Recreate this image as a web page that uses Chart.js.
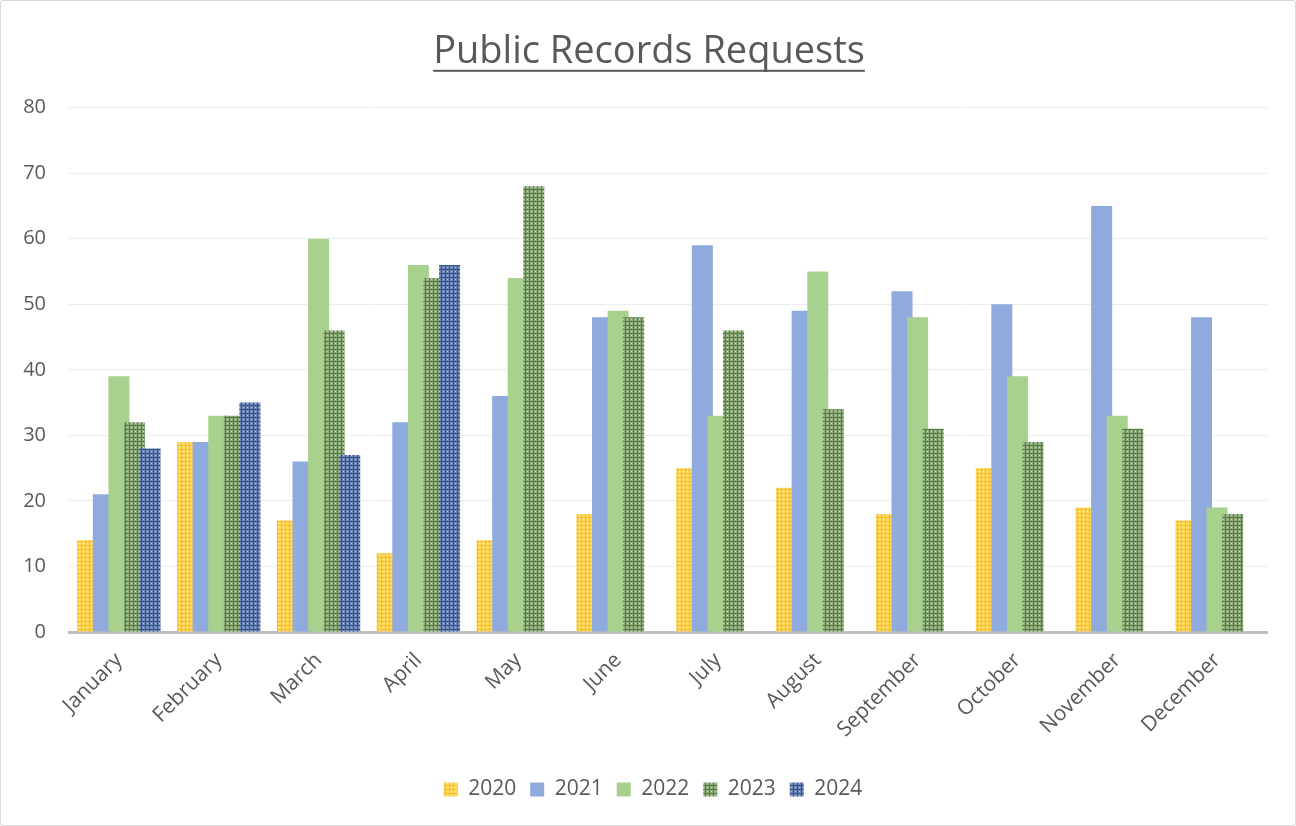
<!DOCTYPE html>
<html>
<head>
<meta charset="utf-8">
<script src="https://cdn.jsdelivr.net/npm/chart.js@4.4.1/dist/chart.umd.min.js"></script>
<style>
  html, body { margin: 0; padding: 0; background: #fff; }
  #wrap { width: 1296px; height: 826px; box-sizing: border-box; border: 1px solid #d9d9d9; border-radius: 3px; position: relative; }
  #c { display: block; }
</style>
</head>
<body>
<div id="wrap"><canvas id="c" width="1294" height="824"></canvas></div>
<script>
const months = ['January','February','March','April','May','June','July','August','September','October','November','December'];
const seriesNames = ['2020','2021','2022','2023','2024'];
const v2020 = [14, 29, 17, 12, 14, 18, 25, 22, 18, 25, 19, 17];
const v2021 = [21, 29, 26, 32, 36, 48, 59, 49, 52, 50, 65, 48];
const v2022 = [39, 33, 60, 56, 54, 49, 33, 55, 48, 39, 33, 19];
const v2023 = [32, 33, 46, 54, 68, 48, 46, 34, 31, 29, 31, 18];
const v2024 = [28, 35, 27, 56, null, null, null, null, null, null, null, null];
const yTicks = [0, 10, 20, 30, 40, 50, 60, 70, 80];

const FONT = "'Open Sans'";

function gridPattern(line, cell, dot) {
  const t = document.createElement('canvas');
  t.width = 4; t.height = 4;
  const g = t.getContext('2d');
  g.fillStyle = cell; g.fillRect(0, 0, 4, 4);
  g.fillStyle = line; g.fillRect(0, 0, 4, 1); g.fillRect(0, 0, 1, 4);
  if (dot) { g.fillStyle = dot; g.fillRect(2, 2, 1, 1); }
  return document.createElement('canvas').getContext('2d').createPattern(t, 'repeat');
}

const fills = [
  gridPattern('#f7c025', '#ffd860', '#ffeaa8'),
  '#8faadc',
  '#a9d18e',
  gridPattern('#55803a', '#93ad82', '#c4d3ba'),
  gridPattern('#34548f', '#7189b8', '#aebcd8')
];
const allValues = [v2020, v2021, v2022, v2023, v2024];

const drawInOrder = {
  id: 'drawInOrder',
  beforeDatasetsDraw(chart) {
    const metas = chart.getSortedVisibleDatasetMetas();
    for (const meta of metas) meta.controller.draw();
    return false;
  }
};

const shiftBlocks = {
  id: 'shiftBlocks',
  afterLayout(chart) {
    const t = chart.titleBlock;
    if (t) { t.left += 8; t.right += 8; }
    const l = chart.legend;
    if (l) { l.left += 12; l.right += 12; }
  }
};

const underlineTitle = {
  id: 'underlineTitle',
  afterDraw(chart) {
    const tb = chart.titleBlock;
    if (!tb) return;
    const ctx = chart.ctx;
    const f = tb.options.font;
    ctx.save();
    ctx.font = f.size + 'px ' + FONT;
    const w = ctx.measureText(chart.options.plugins.title.text).width;
    const cx = (tb.left + tb.right) / 2;
    const cy = tb.top + tb.options.padding.top + f.size * 1.2 / 2;
    ctx.fillStyle = '#595959';
    ctx.fillRect(cx - w / 2, cy + 18, w, 2);
    ctx.restore();
  }
};

new Chart(document.getElementById('c'), {
  type: 'bar',
  data: {
    labels: months,
    datasets: seriesNames.map((n, i) => ({
      label: n,
      data: allValues[i],
      backgroundColor: fills[i],
      borderWidth: 0,
      categoryPercentage: 0.78,
      barPercentage: 1.35
    }))
  },
  plugins: [drawInOrder, shiftBlocks, underlineTitle],
  options: {
    responsive: false,
    animation: false,
    layout: { padding: { left: 14, right: 28, top: 0, bottom: 15 } },
    plugins: {
      tooltip: { enabled: false },
      title: {
        display: true,
        text: 'Public Records Requests',
        color: '#595959',
        font: { family: FONT, size: 38, weight: 'normal' },
        padding: { top: 28, bottom: 33 }
      },
      legend: {
        position: 'bottom',
        labels: {
          color: '#595959',
          font: { family: FONT, size: 21 },
          boxWidth: 14,
          boxHeight: 14,
          padding: 14
        }
      }
    },
    scales: {
      x: {
        grid: { display: false },
        border: { display: true, color: '#bfbfbf', width: 3 },
        ticks: {
          color: '#595959',
          font: { family: FONT, size: 21 },
          maxRotation: 45,
          minRotation: 45,
          padding: 8
        },
        afterFit(s) { s.height = 133; }
      },
      y: {
        min: 0,
        max: 80,
        afterBuildTicks(scale) { scale.ticks = yTicks.map(v => ({ value: v })); },
        grid: { color: '#ececec', lineWidth: 1, drawTicks: false },
        border: { display: false },
        ticks: {
          color: '#595959',
          font: { family: FONT, size: 20 },
          padding: 23
        },
        afterFit(s) { s.width = 54; }
      }
    }
  }
});
</script>
</body>
</html>
